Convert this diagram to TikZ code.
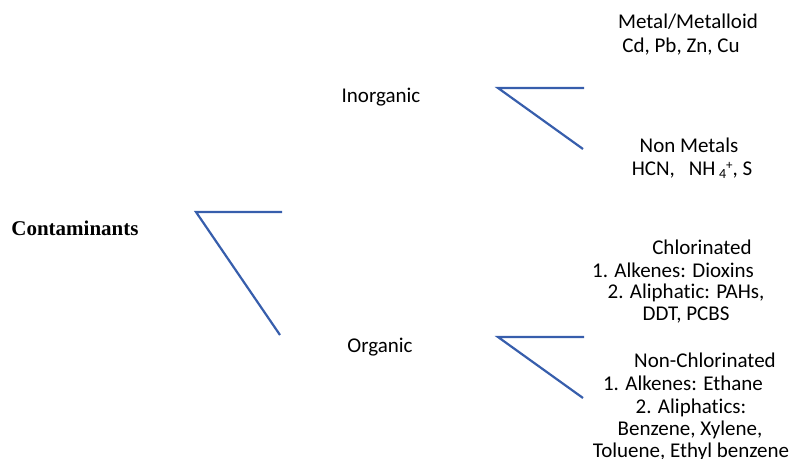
\documentclass[tikz,border=0pt]{standalone}
\usepackage{fontspec}
\setmainfont[Ligatures=NoCommon]{Carlito}
\newfontfamily\headfont{Liberation Serif}
\definecolor{branchblue}{RGB}{55,94,172}
\begin{document}
\begin{tikzpicture}[x=1pt,y=-1pt,
  lbl/.style={anchor=base,inner sep=0pt,font=\fontsize{21}{25}\selectfont},
  head/.style={anchor=base,inner sep=0pt,font=\headfont\bfseries\fontsize{21}{25}\selectfont},
  branch/.style={draw=branchblue,line width=2.2pt,line join=miter}]
\useasboundingbox (0,0) rectangle (791,458);

% labels
\node[head] (root) at (75,235) {Contaminants};
\node[lbl] (inorg) at (381,102) {Inorganic};
\node[lbl] (org) at (380,352) {Organic};

\node[lbl] (metal) at (688,28) {Metal/Metalloid};
\node[lbl] (metalex) at (681,52) {Cd, Pb, Zn, Cu};
\node[lbl] (nonmetal) at (689,152) {Non Metals};
\node[lbl] (nonmetalex) at (692,175) {HCN,\hspace{14pt}NH\,\raisebox{-3pt}{\fontsize{14}{14}\selectfont 4}\raisebox{6pt}{\fontsize{13}{13}\selectfont +}, S};

\node[lbl] (chl) at (702,254) {Chlorinated};
\node[lbl] (chla) at (673,277) {1. Alkenes: Dioxins};
\node[lbl] (chlb) at (686,298) {2. Aliphatic: PAHs,};
\node[lbl] (chlc) at (686,320) {DDT, PCBS};

\node[lbl] (nchl) at (705,367) {Non-Chlorinated};
\node[lbl] (nchla) at (683,390) {1. Alkenes: Ethane};
\node[lbl] (nchlb) at (691,413) {2. Aliphatics:};
\node[lbl] (nchlc) at (690,435) {Benzene, Xylene,};
\node[lbl] (nchld) at (691,457) {Toluene, Ethyl benzene};

% branching brackets
\coordinate (r0) at (196,212);
\coordinate (r1) at (282,212);
\coordinate (r2) at (280,335);
\draw[branch] (r1) -- (r0) -- (r2);

\coordinate (i0) at (498,88);
\coordinate (i1) at (584,88);
\coordinate (i2) at (583,149);
\draw[branch] (i1) -- (i0) -- (i2);

\coordinate (o0) at (498,337);
\coordinate (o1) at (584,337);
\coordinate (o2) at (583,398);
\draw[branch] (o1) -- (o0) -- (o2);
\end{tikzpicture}
\end{document}
